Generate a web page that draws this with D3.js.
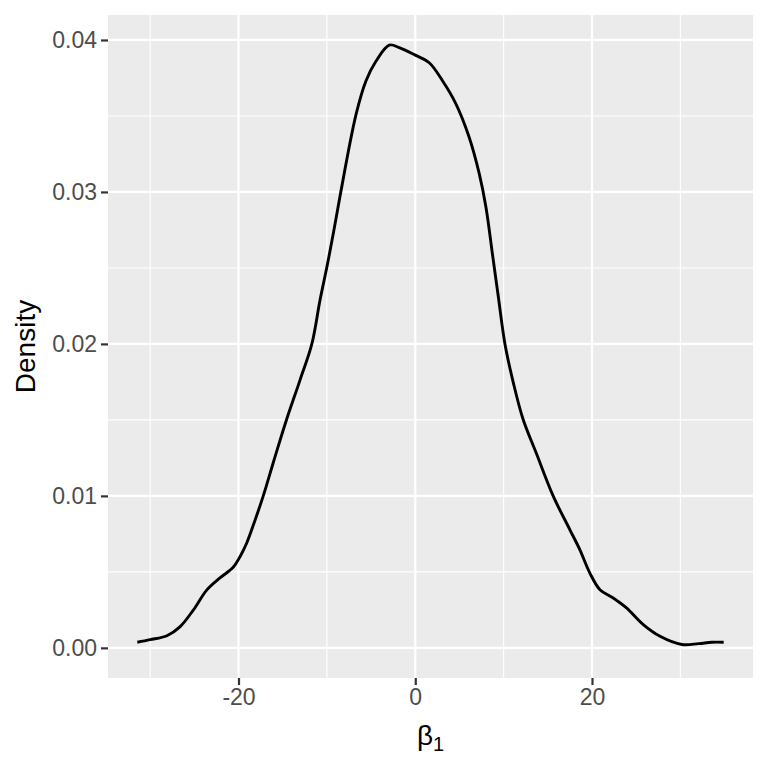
<!DOCTYPE html>
<html>
<head>
<meta charset="utf-8">
<script src="https://cdn.jsdelivr.net/npm/d3@7"></script>
<style>
  body { margin: 0; background: #fff; }
  svg { display: block; font-family: "Liberation Sans", Arial, sans-serif; }
</style>
</head>
<body>
<svg></svg>
<script>
// density curve (beta_1 vs density)
const betaValues = [-31.45, -30, -28.1, -26.6, -25.1, -23.6, -22.1, -20.6, -19.83, -19.07, -18.13, -17.2,
  -16.06, -14.55, -13.04, -11.7, -10.78, -10, -9.28, -8.52, -6.7, -5.58, -4.45, -2.94, -1.81,
  0, 1.58, 3.1, 4.6, 6.1, 7.24, 8.0, 8.76, 9.4, 10.15, 11.1, 12.2, 13.7, 15.6, 17.5, 18.63, 19.76,
  20.9, 22.4, 23.9, 25.8, 27.7, 30.17, 32.06, 33.56, 34.9];
const densityValues = [0.00037, 0.00054, 0.0008, 0.0014, 0.0025, 0.0038, 0.0046, 0.0053, 0.0060, 0.0069, 0.0084, 0.0100,
  0.0122, 0.01504, 0.01762, 0.0200, 0.02287, 0.02506, 0.02725, 0.0297, 0.0351, 0.0373, 0.0386, 0.03966, 0.0395,
  0.0390, 0.0385, 0.0373, 0.0358, 0.0336, 0.0312, 0.0290, 0.0258, 0.0231, 0.0200, 0.01744, 0.01504, 0.0128, 0.0100, 0.00777, 0.00645, 0.00492,
  0.00383, 0.00328, 0.00263, 0.00153, 0.00076, 0.00022, 0.00028, 0.00037, 0.00037];

const xBreaks = [-20, 0, 20];
const xMinor = [-30, -10, 10, 30];
const yBreaks = [0, 0.01, 0.02, 0.03, 0.04];
const yMinor = [0.005, 0.015, 0.025, 0.035];

const width = 768, height = 768;
const panel = { left: 108, right: 753, top: 15, bottom: 678 };

const svg = d3.select("svg").attr("width", width).attr("height", height);

// ggplot style 5% expansion
const xr = d3.extent(betaValues);
const xpad = (xr[1] - xr[0]) * 0.05;
const yr = [0, d3.max(densityValues)];
const ypad = (yr[1] - yr[0]) * 0.05;

const x = d3.scaleLinear().domain([xr[0] - xpad, xr[1] + xpad]).range([panel.left, panel.right]);
const y = d3.scaleLinear().domain([yr[0] - ypad, yr[1] + ypad]).range([panel.bottom, panel.top]);

// panel background
svg.append("rect")
  .attr("x", panel.left).attr("y", panel.top)
  .attr("width", panel.right - panel.left).attr("height", panel.bottom - panel.top)
  .attr("fill", "#EBEBEB");

const grid = svg.append("g");
grid.selectAll(".xminor").data(xMinor).join("line")
  .attr("x1", d => x(d)).attr("x2", d => x(d))
  .attr("y1", panel.top).attr("y2", panel.bottom)
  .attr("stroke", "#fff").attr("stroke-width", 1.1);
grid.selectAll(".yminor").data(yMinor).join("line")
  .attr("y1", d => y(d)).attr("y2", d => y(d))
  .attr("x1", panel.left).attr("x2", panel.right)
  .attr("stroke", "#fff").attr("stroke-width", 1.1);
grid.selectAll(".xmajor").data(xBreaks).join("line")
  .attr("x1", d => x(d)).attr("x2", d => x(d))
  .attr("y1", panel.top).attr("y2", panel.bottom)
  .attr("stroke", "#fff").attr("stroke-width", 2.2);
grid.selectAll(".ymajor").data(yBreaks).join("line")
  .attr("y1", d => y(d)).attr("y2", d => y(d))
  .attr("x1", panel.left).attr("x2", panel.right)
  .attr("stroke", "#fff").attr("stroke-width", 2.2);

// density line
const line = d3.line()
  .x((d, i) => x(betaValues[i]))
  .y(d => y(d))
  .curve(d3.curveCatmullRom.alpha(0.5));

svg.append("path")
  .datum(densityValues)
  .attr("d", line)
  .attr("fill", "none")
  .attr("stroke", "#000")
  .attr("stroke-width", 2.9)
  .attr("stroke-linejoin", "round");

// axes
const xAxis = svg.append("g")
  .attr("transform", `translate(0,${panel.bottom})`)
  .call(d3.axisBottom(x).tickValues(xBreaks).tickSize(7).tickPadding(4).tickFormat(d3.format("d")));
const yAxis = svg.append("g")
  .attr("transform", `translate(${panel.left},0)`)
  .call(d3.axisLeft(y).tickValues(yBreaks).tickSize(7).tickPadding(4).tickFormat(d3.format(".2f")));

[xAxis, yAxis].forEach(a => {
  a.select(".domain").remove();
  a.selectAll(".tick line").attr("stroke", "#333").attr("stroke-width", 2.2);
  a.selectAll(".tick text")
    .attr("fill", "#4D4D4D")
    .style("font-size", "23px")
    .style("font-family", "'Liberation Sans', Arial, sans-serif");
});
xAxis.selectAll(".tick text").text(d => d3.format("d")(d).replace("−", "-"));

// axis titles
const xt = svg.append("text")
  .attr("x", (panel.left + panel.right) / 2)
  .attr("y", 745)
  .attr("text-anchor", "middle")
  .style("font-size", "28px")
  .attr("fill", "#000");
xt.append("tspan").text("β");
xt.append("tspan").attr("dy", 6).style("font-size", "20px").text("1");

svg.append("text")
  .attr("transform", `translate(35,${(panel.top + panel.bottom) / 2}) rotate(-90)`)
  .attr("text-anchor", "middle")
  .style("font-size", "28px")
  .attr("fill", "#000")
  .text("Density");
</script>
</body>
</html>
